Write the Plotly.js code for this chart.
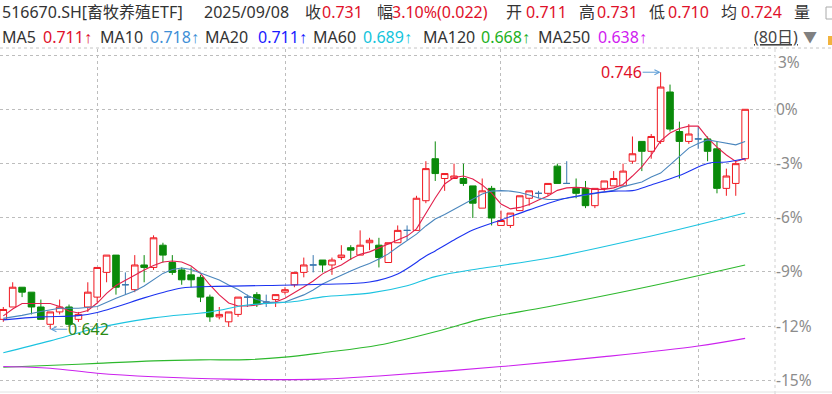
<!DOCTYPE html>
<html><head><meta charset="utf-8">
<script src="https://cdn.plot.ly/plotly-3.0.1.min.js"></script>
<style>html,body{margin:0;padding:0;background:#fff;}#chart{width:832px;height:394px;}</style>
</head><body><div id="chart"></div>
<script>
// ---- OHLC data (80 trading days, last = 2025/09/08) ----
const opens  = [0.646,0.651,0.659,0.657,0.651,0.644,0.649,0.651,0.646,0.651,
                0.655,0.665,0.672,0.660,0.658,0.668,0.667,0.676,0.669,0.666,
                0.664,0.663,0.655,0.647,0.645,0.648,0.655,0.656,0.653,0.654,
                0.657,0.660,0.665,0.668,0.670,0.668,0.671,0.675,0.672,0.677,
                0.676,0.669,0.677,0.682,0.682,0.694,0.711,0.703,0.703,0.703,
                0.700,0.691,0.699,0.684,0.684,0.690,0.695,0.697,0.697,0.708,
                0.701,0.699,0.699,0.692,0.699,0.700,0.700,0.710,0.718,0.714,
                0.718,0.738,0.722,0.718,0.719,0.719,0.715,0.699,0.701,0.711];
const highs  = [0.651,0.661,0.659,0.657,0.654,0.649,0.654,0.652,0.649,0.661,
                0.667,0.672,0.672,0.665,0.672,0.672,0.680,0.677,0.672,0.667,
                0.667,0.664,0.656,0.651,0.649,0.655,0.656,0.657,0.656,0.656,
                0.659,0.665,0.671,0.672,0.670,0.671,0.676,0.676,0.682,0.679,
                0.679,0.677,0.684,0.684,0.696,0.710,0.718,0.705,0.709,0.709,
                0.700,0.703,0.700,0.690,0.689,0.696,0.698,0.698,0.701,0.709,
                0.710,0.703,0.702,0.699,0.702,0.706,0.709,0.720,0.718,0.721,
                0.746,0.741,0.726,0.725,0.724,0.720,0.718,0.707,0.710,0.731];
const lows   = [0.645,0.651,0.655,0.648,0.646,0.642,0.648,0.643,0.645,0.649,
                0.653,0.661,0.656,0.656,0.657,0.661,0.666,0.669,0.664,0.660,
                0.659,0.653,0.645,0.646,0.643,0.647,0.651,0.651,0.651,0.651,
                0.656,0.659,0.663,0.665,0.665,0.664,0.670,0.670,0.672,0.674,
                0.667,0.669,0.677,0.678,0.682,0.693,0.702,0.698,0.703,0.700,
                0.687,0.691,0.684,0.684,0.683,0.690,0.692,0.695,0.696,0.701,
                0.701,0.695,0.691,0.691,0.698,0.700,0.700,0.709,0.706,0.711,
                0.717,0.722,0.703,0.717,0.715,0.710,0.697,0.696,0.696,0.710];
const closes = [0.650,0.659,0.657,0.651,0.646,0.649,0.651,0.644,0.648,0.657,
                0.667,0.672,0.659,0.660,0.668,0.667,0.679,0.672,0.665,0.662,
                0.662,0.655,0.647,0.648,0.649,0.655,0.655,0.652,0.653,0.656,
                0.658,0.665,0.668,0.668,0.668,0.670,0.672,0.674,0.676,0.678,
                0.671,0.677,0.682,0.682,0.695,0.707,0.705,0.705,0.704,0.701,
                0.693,0.698,0.687,0.686,0.689,0.696,0.698,0.697,0.701,0.701,
                0.701,0.697,0.692,0.699,0.702,0.703,0.706,0.713,0.714,0.720,
                0.740,0.723,0.718,0.721,0.719,0.714,0.699,0.704,0.709,0.731];

// ---- moving averages (index, value) ----
const ma5 = [0.6474,0.6502,0.6524,0.6525,0.6525,0.6524,0.6512,0.6494,0.6486,0.6496,
             0.6526,0.6565,0.6597,0.6619,0.6640,0.6660,0.6678,0.6692,0.6696,0.6692,
             0.6676,0.6646,0.6599,0.6559,0.6526,0.6514,0.6514,0.6518,0.6526,0.6530,
             0.6545,0.6567,0.6591,0.6615,0.6644,0.6664,0.6680,0.6704,0.6723,0.6733,
             0.6749,0.6763,0.6781,0.6797,0.6826,0.6890,0.6951,0.7008,0.7034,0.7040,
             0.7028,0.7004,0.6971,0.6927,0.6907,0.6913,0.6925,0.6943,0.6959,0.6982,
             0.6992,0.6994,0.6992,0.6986,0.6986,0.6992,0.7006,0.7040,0.7077,0.7125,
             0.7182,0.7214,0.7232,0.7242,0.7242,0.7194,0.7157,0.7125,0.7099,0.7110];
const ma10X = [0,2,4,6,8,10,12,14,15,16,17,18,19,20,21,22,23,24,25,26,27,28,29,30,31,32,33,34,35,36,37,38,39,40,
               41,42,43,44,45,46,47,48,49,50,51,52,53,54,55,56,57,58,59,60,61,62,63,64,65,66,67,68,69,70,71,72,73,74,
               75,76,77,78,79];
const ma10 = [0.6464,0.6476,0.6492,0.6505,0.6505,0.6512,0.6545,0.6575,0.6595,0.6619,0.6646,0.6662,0.6668,0.6662,
              0.6648,0.6634,0.6619,0.6599,0.6581,0.6557,0.6540,0.6530,0.6528,0.6530,0.6545,0.6559,0.6579,0.6603,
              0.6621,0.6640,0.6656,0.6672,0.6686,0.6704,0.6725,0.6753,0.6779,0.6805,0.6838,0.6866,0.6884,0.6905,
              0.6927,0.6947,0.6967,0.6979,0.6981,0.6979,0.6973,0.6963,0.6951,0.6945,0.6945,0.6950,0.6957,0.6963,
              0.6969,0.6975,0.6982,0.6997,0.7008,0.7016,0.7036,0.7052,0.7085,0.7121,0.7153,0.7172,0.7186,0.7180,
              0.7172,0.7166,0.7180];
const ma20X = [0,4,8,10,12,15,17,19,22,28,34,39,42,45,46,48,50,53,56,59,62,65,67,69,72,75,77,79];
const ma20  = [0.6458,0.6470,0.6475,0.6488,0.6510,0.6547,0.6569,0.6587,0.6593,0.6597,0.6602,0.6611,0.6644,
               0.6716,0.6737,0.6781,0.6822,0.6862,0.6903,0.6941,0.6965,0.6979,0.6981,0.7004,0.7042,0.7091,
               0.7097,0.7110];
const ma60X = [0,5,10,16,22,26,31,34,39,43,46,51,58,69,79];
const ma60  = [0.6325,0.6373,0.6425,0.6466,0.6490,0.6518,0.6532,0.6551,0.6566,0.6596,0.6633,0.6667,0.6707,0.6797,0.6890];
const ma120X = [0,6,10,16,21,26,30,34,40,47,51,58,69,79];
const ma120  = [0.6266,0.6275,0.6282,0.6292,0.6296,0.6297,0.6307,0.6325,0.6356,0.6420,0.6462,0.6511,0.6595,0.6680];
const ma250X = [0,5,10,16,24,34,40,53,64,74,79];
const ma250  = [0.6269,0.6262,0.6242,0.6228,0.6218,0.6218,0.6231,0.6269,0.6309,0.6352,0.6383];

// ---- texts ----
const monthStarts = [10,30,53,74];
const pctTicks = [3,0,-3,-6,-9,-12,-15];
const pctLabels = ['3%','0%','-3%','-6%','-9%','-12%','-15%'];
const header1 = [
  ['516670.SH[畜牧养殖ETF]',2,'#333'],['2025/09/08',204,'#333'],
  ['收',305,'#333'],['0.731',322,'R'],['幅',377,'#333'],['3.10%(0.022)',392,'R'],
  ['开',506,'#333'],['0.711',526,'R'],['高',579,'#333'],['0.731',597,'R'],
  ['低',649,'#333'],['0.710',668,'R'],['均',721,'#333'],['0.724',741,'R'],['量',794,'#333']];
const maNames  = ['MA5','MA10','MA20','MA60','MA120','MA250'];
const maValues = ['0.711','0.718','0.711','0.689','0.668','0.638'];
const maNameX  = [2,100,205,313,423,538];
const maValX   = [43,150,258,363,481,598];

// ---- styles ----
const FONT = 'Noto Sans, Noto Sans CJK SC, sans-serif';
const RED = '#e0102a', UPC = '#f01820', DNC = '#0a8a0a', DOJI = '#3a78b0';
const maColors = ['#e2204c','#4a86bd','#1c33f0','#1cc3e0','#2db82d','#cc22ee'];
const maTextColors = ['#e0102a','#3f8fd6','#1a1aff','#14c4dc','#22b022','#d020f0'];
const PLOT_W = 775, TOP = 49, BOT = 392, PH = BOT - TOP;
const px = x => x / PLOT_W, py = y => (BOT - y) / PH;

const idx = closes.map((_, i) => i);
function pick(cond) {
  const r = {x:[], open:[], high:[], low:[], close:[]};
  idx.forEach(i => { if (cond(i)) { r.x.push(i); r.open.push(opens[i]); r.high.push(highs[i]); r.low.push(lows[i]); r.close.push(closes[i]); } });
  return r;
}
function candle(d, lineCol, fill) {
  const st = {line:{color:lineCol, width:1}, fillcolor:fill};
  return Object.assign({type:'candlestick', increasing:st, decreasing:st, whiskerwidth:0, hoverinfo:'skip'}, d);
}
const traces = [
  candle(pick(i => closes[i] > opens[i]), UPC, '#ffffff'),
  candle(pick(i => closes[i] < opens[i]), DNC, DNC),
  candle(pick(i => closes[i] === opens[i]), DOJI, DOJI)
];
const maX = [idx, ma10X, ma20X, ma60X, ma120X, ma250X];
const maY = [ma5, ma10, ma20, ma60, ma120, ma250];
maY.forEach((ys, k) => traces.push({type:'scatter', mode:'lines', x:maX[k], y:ys,
  line:{color:maColors[k], width:1.1, shape: k >= 2 ? 'spline' : 'linear'}, hoverinfo:'skip'}));

const base = closes[closes.length - 1];
const tickvals = pctTicks.map(p => base * (1 + p / 100));

const annotations = [];
function txt(t, x, y, color, size, extra) {
  annotations.push(Object.assign({xref:'paper', yref:'paper', x:px(x), y:py(y), xanchor:'left', yanchor:'middle',
    text:t, showarrow:false, borderpad:0, borderwidth:0, font:{family:FONT, size:size || 16, color:color}}, extra || {}));
}
const ARROW = '<span style="font-family:Liberation Sans, Arial, sans-serif">↑</span>';
header1.forEach(h => txt(h[0], h[1], 12, h[2] === 'R' ? RED : h[2]));
maNames.forEach((n, k) => { txt(n, maNameX[k], 37, '#333'); txt(maValues[k] + ARROW, maValX[k], 37, maTextColors[k]); });
txt('<u>(80日)</u>', 754, 37, '#444');
txt('▼', 803, 37, '#808080', 14);
// top percentage label sits a little below its grid line
txt(pctLabels[0], 778, 62, '#8c8c8c', 15.5);

// high / low markers
const hiVal = Math.max(...highs), hiIdx = highs.indexOf(hiVal);
const loVal = Math.min(...lows), loIdx = lows.indexOf(loVal);
annotations.push({xref:'x', yref:'y', x:hiIdx, y:hiVal, text:hiVal.toFixed(3), showarrow:true, arrowhead:5, arrowsize:1,
  arrowwidth:1, arrowcolor:'#5b9bd5', ax:-39, ay:0, standoff:0, borderpad:0, font:{family:FONT, size:16, color:RED}});
annotations.push({xref:'x', yref:'y', x:loIdx, y:loVal, text:loVal.toFixed(3), showarrow:true, arrowhead:5, arrowsize:1,
  arrowwidth:1, arrowcolor:'#5b9bd5', ax:38, ay:0, standoff:0, borderpad:0, font:{family:FONT, size:16, color:'#2a8a14'}});

const shapes = [
  {type:'line', xref:'paper', yref:'paper', x0:0, x1:px(832), y0:py(48), y1:py(48), line:{color:'#c4c4c4', width:1, dash:'dot'}},
  {type:'line', xref:'paper', yref:'paper', x0:1, x1:1, y0:py(394), y1:py(48), line:{color:'#d0d0d0', width:1, dash:'dot'}},
  {type:'line', xref:'paper', yref:'paper', x0:0, x1:px(832), y0:py(392), y1:py(392), line:{color:'#e2e2e2', width:1}},
  {type:'rect', xref:'paper', yref:'paper', x0:px(826), x1:px(840), y0:py(19), y1:py(7), line:{color:'#aaaaaa', width:1}},
  {type:'rect', xref:'paper', yref:'paper', x0:px(828), x1:px(840), y0:py(45), y1:py(36), fillcolor:'#f2b33d', line:{width:0}}
];

const layout = {
  width:832, height:394, margin:{l:0, r:57, t:TOP, b:394 - BOT, pad:0},
  paper_bgcolor:'#ffffff', plot_bgcolor:'#ffffff', showlegend:false, hovermode:false,
  boxgap:0.3, boxgroupgap:0,
  xaxis:{range:[-0.351, 82.18], tickvals:monthStarts, showticklabels:false, ticks:'', showgrid:true,
    gridcolor:'#bdbdbd', griddash:'dot', gridwidth:1, zeroline:false, showline:false, rangeslider:{visible:false}, fixedrange:true},
  yaxis:{side:'right', range:[0.6166, 0.7554], tickvals:tickvals, ticktext:pctLabels.map((t, i) => i === 0 ? '' : t), ticks:'', showgrid:true,
    gridcolor:'#bdbdbd', griddash:'dot', gridwidth:1, zeroline:false, showline:false, fixedrange:true,
    tickfont:{family:FONT, size:15.5, color:'#8c8c8c'}},
  annotations:annotations, shapes:shapes
};
Plotly.newPlot('chart', traces, layout, {displayModeBar:false, staticPlot:true});
</script></body></html>
